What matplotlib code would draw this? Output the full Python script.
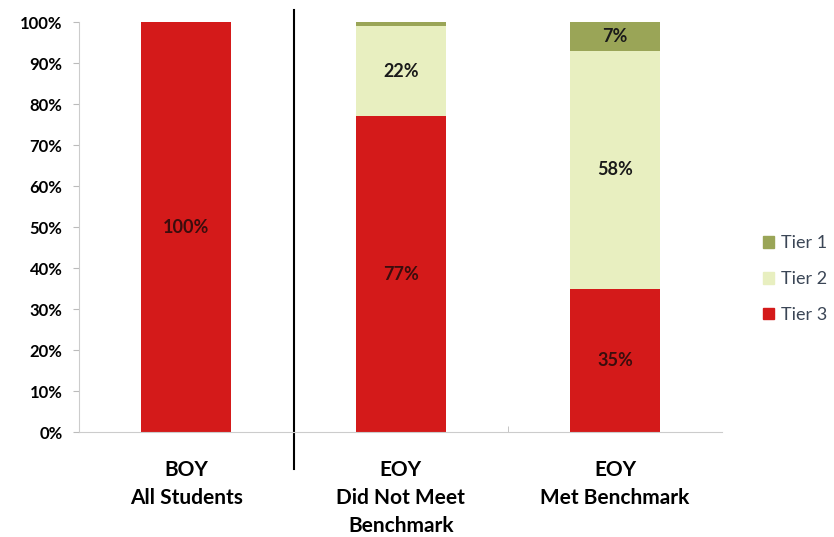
import matplotlib.pyplot as plt
from matplotlib.patches import Patch

# data
categories = ["BOY\nAll Students", "EOY\nDid Not Meet\nBenchmark", "EOY\nMet Benchmark"]
tier3 = [100, 77, 35]
tier2 = [0, 22, 58]
tier1 = [0, 1, 7]
labels3 = ["100%", "77%", "35%"]
labels2 = ["", "22%", "58%"]
labels1 = ["", "", "7%"]

c1 = "#9aa557"
c2 = "#e8efc0"
c3 = "#d41a1a"

plt.rcParams['font.family'] = ['Lato', 'DejaVu Sans']

fig = plt.figure(figsize=(8.34, 5.37), dpi=100)
ax = fig.add_axes([0.095, 0.195, 0.771, 0.764])

x = range(len(categories))
w = 0.42
ax.bar(x, tier3, w, color=c3)
ax.bar(x, tier2, w, bottom=tier3, color=c2)
bot1 = [a + b for a, b in zip(tier3, tier2)]
ax.bar(x, tier1, w, bottom=bot1, color=c1)

for i in x:
    if labels3[i]:
        ax.text(i, tier3[i] / 2, labels3[i], ha="center", va="center",
                fontsize=13, fontweight="bold", color="#3a0d0d")
    if labels2[i]:
        ax.text(i, tier3[i] + tier2[i] / 2, labels2[i], ha="center", va="center",
                fontsize=13, fontweight="bold", color="#1a1a1a")
    if labels1[i]:
        ax.text(i, bot1[i] + tier1[i] / 2, labels1[i], ha="center", va="center",
                fontsize=13, fontweight="bold", color="#1a1a1a")

ax.set_xlim(-0.5, 2.5)
ax.set_ylim(0, 100)
ax.set_yticks(range(0, 101, 10))
ax.set_yticklabels([f"{v}%" for v in range(0, 101, 10)], fontsize=12, fontweight="bold")
ax.set_xticks(list(x))
ax.set_xticklabels(categories, fontsize=15, fontweight="bold", va="top", linespacing=1.5)
ax.tick_params(axis="x", length=0, pad=20)
ax.tick_params(axis="y", length=4, color="#bbbbbb", pad=8)
ax.set_xticks([0.5, 1.5], minor=True)
ax.tick_params(axis="x", which="minor", length=4, color="#bbbbbb", direction="in")

for s in ["top", "right"]:
    ax.spines[s].set_visible(False)
ax.spines["left"].set_color("#cccccc")
ax.spines["bottom"].set_color("#cccccc")

# separator between BOY and EOY
ax.plot([0.5, 0.5], [-9, 103], color="black", lw=1.5, clip_on=False)

handles = [Patch(color=c1), Patch(color=c2), Patch(color=c3)]
fig.legend(handles, ["Tier 1", "Tier 2", "Tier 3"], loc="center left",
           bbox_to_anchor=(0.895, 0.48), frameon=False, fontsize=13,
           handlelength=0.6, handleheight=0.6, labelspacing=1.1,
           handletextpad=0.4, labelcolor="#3b4656")

fig.savefig("out.png", dpi=100)
